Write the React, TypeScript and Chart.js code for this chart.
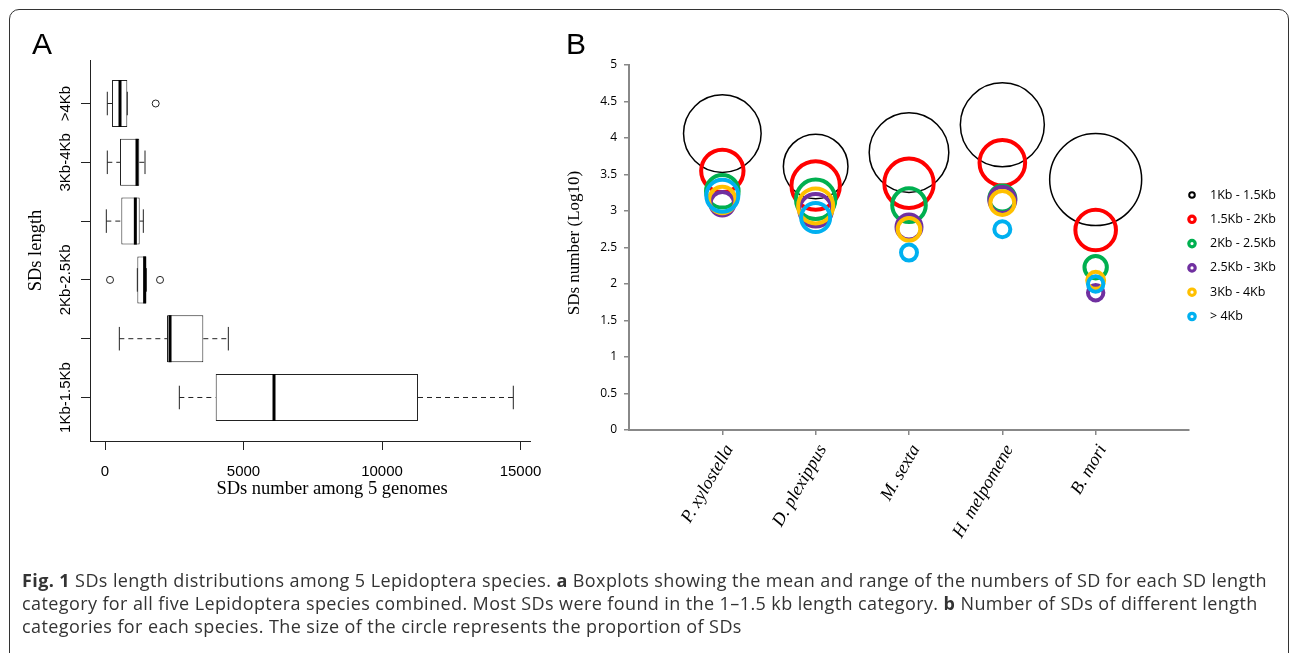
import React, { useEffect, useRef } from "react";
import { Chart, registerables } from "chart.js";

Chart.register(...registerables);

// ---------- Panel A: boxplot data (SD counts among 5 genomes) ----------
const lengthCategories = ["1Kb-1.5Kb", "1.5Kb-2Kb", "2Kb-2.5Kb", "2.5Kb-3Kb", "3Kb-4Kb", ">4Kb"];
const whiskerLow = [2683, 517, 1167, 47, 83, 83];
const lowerQuartile = [3996, 2238, 1167, 589, 541, 253];
const medianValue = [6101, 2347, 1430, 1095, 1155, 541];
const upperQuartile = [11300, 3549, 1492, 1252, 1238, 805];
const whiskerHigh = [14740, 4452, 1492, 1383, 1444, 805];
const outlierValues: number[][] = [[], [], [181, 1986], [], [], [1830]];
const countTicks = [0, 5000, 10000, 15000];

// ---------- Panel B: bubble data (log10 SD number per species) ----------
const species = ["P. xylostella", "D. plexippus", "M. sexta", "H. melpomene", "B. mori"];
const sdClasses = ["1Kb - 1.5Kb", "1.5Kb - 2Kb", "2Kb - 2.5Kb", "2.5Kb - 3Kb", "3Kb - 4Kb", "> 4Kb"];
const log1to15 = [4.06, 3.61, 3.8, 4.18, 3.43];
const log15to2 = [3.55, 3.35, 3.38, 3.66, 2.74];
const log2to25 = [3.27, 3.16, 3.08, 3.17, 2.23];
const log25to3 = [3.1, 3.01, 2.78, 3.15, 1.88];
const log3to4 = [3.15, 3.07, 2.75, 3.11, 2.05];
const logOver4 = [3.21, 2.91, 2.43, 2.75, 2.0];
// bubble sizes (proportion of SDs, drawn as radius)
const size1to15 = [38.8, 32.3, 39.8, 42.0, 46.0];
const size15to2 = [21.2, 24.2, 24.7, 22.8, 20.3];
const size2to25 = [16.3, 19.7, 16.8, 13.0, 11.2];
const size25to3 = [11.8, 16.3, 12.5, 13.0, 7.7];
const size3to4 = [13.2, 17.5, 11.3, 12.0, 8.5];
const sizeOver4 = [16.0, 14.5, 8.0, 8.0, 7.7];
const classColors = ["#000000", "#FF0000", "#00B050", "#7030A0", "#FFC000", "#00B0F0"];

const bubbleSeries = [log1to15, log15to2, log2to25, log25to3, log3to4, logOver4];
const bubbleSizes = [size1to15, size15to2, size2to25, size25to3, size3to4, sizeOver4];

const SANS = "'Liberation Sans'";
const SERIF = "'Liberation Serif'";

const boxplotExtras = {
  id: "boxplotExtras",
  afterDatasetsDraw(chart: any) {
    const { ctx } = chart;
    const xs = chart.scales.x;
    const ys = chart.scales.y;
    const half = Math.abs(ys.getPixelForValue(0.4) - ys.getPixelForValue(0));
    ctx.save();
    lengthCategories.forEach((_, i) => {
      const py = ys.getPixelForValue(i + 1);
      const xl = xs.getPixelForValue(whiskerLow[i]);
      const x1 = xs.getPixelForValue(lowerQuartile[i]);
      const x3 = xs.getPixelForValue(upperQuartile[i]);
      const xh = xs.getPixelForValue(whiskerHigh[i]);
      const xm = xs.getPixelForValue(medianValue[i]);
      ctx.strokeStyle = "#222";
      ctx.lineWidth = 1;
      ctx.setLineDash([5, 4]);
      ctx.beginPath();
      ctx.moveTo(xl, py);
      ctx.lineTo(x1, py);
      ctx.moveTo(x3, py);
      ctx.lineTo(xh, py);
      ctx.stroke();
      ctx.setLineDash([]);
      ctx.beginPath();
      ctx.moveTo(xl, py - half / 2);
      ctx.lineTo(xl, py + half / 2);
      ctx.moveTo(xh, py - half / 2);
      ctx.lineTo(xh, py + half / 2);
      ctx.stroke();
      ctx.strokeStyle = "#000";
      ctx.lineWidth = 3;
      ctx.beginPath();
      ctx.moveTo(xm, py - half);
      ctx.lineTo(xm, py + half);
      ctx.stroke();
      ctx.lineWidth = 1;
      ctx.strokeStyle = "#222";
      outlierValues[i].forEach((v) => {
        ctx.beginPath();
        ctx.arc(xs.getPixelForValue(v), py, 3.5, 0, Math.PI * 2);
        ctx.stroke();
      });
    });
    ctx.restore();
  },
  afterDraw(chart: any) {
    const { ctx, chartArea } = chart;
    const ys = chart.scales.y;
    ctx.save();
    ctx.fillStyle = "#000";
    // y tick labels, rotated, skipping overlapping ones (R style)
    ctx.font = `15px ${SANS}`;
    ctx.textAlign = "center";
    ctx.textBaseline = "alphabetic";
    let lastTop = Infinity;
    lengthCategories.forEach((lab, i) => {
      const py = ys.getPixelForValue(i + 1);
      const w = ctx.measureText(lab).width;
      const bottom = py + w / 2;
      if (bottom < lastTop - 2) {
        ctx.save();
        ctx.translate(70, py);
        ctx.rotate(-Math.PI / 2);
        ctx.fillText(lab, 0, 0);
        ctx.restore();
        lastTop = py - w / 2;
      }
    });
    ctx.font = `18.5px ${SERIF}`;
    ctx.save();
    ctx.translate(41, (chartArea.top + chartArea.bottom) / 2);
    ctx.rotate(-Math.PI / 2);
    ctx.fillText("SDs length", 0, 0);
    ctx.restore();
    ctx.fillText("SDs number among 5 genomes", 332, 494);
    ctx.restore();
  },
};

const bubbleExtras = {
  id: "bubbleExtras",
  afterDraw(chart: any) {
    const { ctx } = chart;
    ctx.save();
    ctx.fillStyle = "#000";
    ctx.font = `17px ${SERIF}`;
    ctx.textAlign = "center";
    ctx.textBaseline = "alphabetic";
    ctx.save();
    ctx.translate(19, 213);
    ctx.rotate(-Math.PI / 2);
    ctx.fillText("SDs number (Log10)", 0, 0);
    ctx.restore();
    // legend
    ctx.font = `12.5px 'Open Sans'`;
    ctx.textAlign = "left";
    ctx.textBaseline = "middle";
    chart.data.datasets.forEach((ds: any, k: number) => {
      const cy = 165 + k * 24.3;
      ctx.beginPath();
      ctx.strokeStyle = ds.borderColor;
      ctx.lineWidth = k === 0 ? 2 : 3.2;
      ctx.arc(632, cy, k === 0 ? 2.8 : 3.2, 0, Math.PI * 2);
      ctx.stroke();
      ctx.fillStyle = "#000";
      ctx.fillText(ds.label, 650, cy);
    });
    ctx.restore();
  },
};

export default function App() {
  const refA = useRef<HTMLCanvasElement>(null);
  const refB = useRef<HTMLCanvasElement>(null);

  useEffect(() => {
    const axisA = {
      grid: { drawOnChartArea: false, drawTicks: true, tickLength: 9, color: "#222", offset: false },
      border: { display: true, color: "#222", width: 1 },
    };
    const chartA = new Chart(refA.current as HTMLCanvasElement, {
      type: "bar",
      data: {
        datasets: [
          {
            label: "SDs",
            data: lengthCategories.map((_, i) => ({ y: i + 1, x: [lowerQuartile[i], upperQuartile[i]] })) as any,
            backgroundColor: "#ffffff",
            borderColor: "#222",
            borderWidth: 1,
            borderSkipped: false,
            categoryPercentage: 1,
            barPercentage: 0.8,
          },
        ],
      },
      options: {
        indexAxis: "y",
        responsive: false,
        animation: false,
        layout: { autoPadding: false, padding: { left: 0, top: 60, right: 30, bottom: 19 } },
        plugins: { legend: { display: false }, tooltip: { enabled: false } },
        scales: {
          x: {
            type: "linear",
            min: -542,
            max: 15343,
            afterBuildTicks: (s: any) => {
              s.ticks = countTicks.map((v) => ({ value: v }));
            },
            afterFit: (s: any) => {
              s.height = 60;
            },
            ticks: {
              padding: 13,
              color: "#000",
              font: { family: SANS, size: 15 },
              callback: (v: any) => String(v),
            },
            ...axisA,
          },
          y: {
            type: "linear",
            min: 0.26,
            max: 6.74,
            offset: false,
            afterBuildTicks: (s: any) => {
              s.ticks = lengthCategories.map((_, i) => ({ value: i + 1 }));
            },
            afterFit: (s: any) => {
              s.width = 90;
            },
            ticks: { display: false },
            ...axisA,
          },
        } as any,
      },
      plugins: [boxplotExtras],
    });

    const axisB = {
      grid: { drawOnChartArea: false, drawTicks: true, tickLength: 5, color: "#888888", lineWidth: 1.5 },
      border: { display: true, color: "#888888", width: 2 },
    };
    const chartB = new Chart(refB.current as HTMLCanvasElement, {
      type: "bubble",
      data: {
        datasets: sdClasses.map((name, k) => ({
          label: name,
          data: species.map((_, j) => ({ x: j + 1, y: bubbleSeries[k][j], r: bubbleSizes[k][j] })),
          borderColor: classColors[k],
          backgroundColor: "rgba(0,0,0,0)",
          borderWidth: k === 0 ? 1.5 : 4,
          order: sdClasses.length - k,
          clip: false as any,
        })),
      },
      options: {
        responsive: false,
        animation: false,
        layout: { autoPadding: false, padding: { left: 0, top: 35, right: 103, bottom: 0 } },
        plugins: { legend: { display: false }, tooltip: { enabled: false } },
        scales: {
          x: {
            type: "linear",
            min: 0,
            max: 6,
            afterBuildTicks: (s: any) => {
              s.ticks = species.map((_, j) => ({ value: j + 1 }));
            },
            afterFit: (s: any) => {
              s.height = 140;
            },
            ticks: {
              autoSkip: false,
              minRotation: 60,
              maxRotation: 60,
              padding: 6,
              labelOffset: 7,
              color: "#000",
              font: { family: SERIF, style: "italic", size: 18 },
              callback: (v: any) => species[Number(v) - 1] ?? "",
            },
            ...axisB,
          },
          y: {
            type: "linear",
            min: 0,
            max: 5,
            afterFit: (s: any) => {
              s.width = 69;
            },
            ticks: {
              stepSize: 0.5,
              padding: 7,
              color: "#000",
              font: { family: "'Open Sans'", size: 12 },
              callback: (v: any) => String(Math.round(Number(v) * 10) / 10),
            },
            ...axisB,
          },
        } as any,
      },
      plugins: [bubbleExtras],
    });

    return () => {
      chartA.destroy();
      chartB.destroy();
    };
  }, []);

  const panelLetter: React.CSSProperties = {
    position: "absolute",
    fontFamily: SANS,
    fontSize: 30,
    lineHeight: "30px",
    color: "#000",
  };

  return (
    <div style={{ position: "absolute", left: 0, top: 0, width: 1292, height: 653, background: "#fff", overflow: "hidden" }}>
      <div
        style={{
          position: "absolute",
          left: 9,
          top: 9,
          width: 1278,
          height: 700,
          border: "1.5px solid #333",
          borderRadius: 10,
        }}
      />
      <canvas ref={refA} width={560} height={520} style={{ position: "absolute", left: 0, top: 0, width: 560, height: 520 }} />
      <canvas ref={refB} width={732} height={540} style={{ position: "absolute", left: 560, top: 30, width: 732, height: 540 }} />
      <div style={{ ...panelLetter, left: 32, top: 29 }}>A</div>
      <div style={{ ...panelLetter, left: 566, top: 29 }}>B</div>
      <div
        style={{
          position: "absolute",
          left: 22,
          top: 569,
          fontFamily: "'Open Sans'",
          fontSize: 18,
          letterSpacing: "0.4px",
          lineHeight: "23px",
          color: "#333",
          whiteSpace: "nowrap",
        }}
      >
        <b>Fig. 1</b> SDs length distributions among 5 Lepidoptera species. <b>a</b> Boxplots showing the mean and range of the numbers of SD for each SD length
        <br />
        category for all five Lepidoptera species combined. Most SDs were found in the 1–1.5 kb length category. <b>b</b> Number of SDs of different length
        <br />
        categories for each species. The size of the circle represents the proportion of SDs
      </div>
    </div>
  );
}
